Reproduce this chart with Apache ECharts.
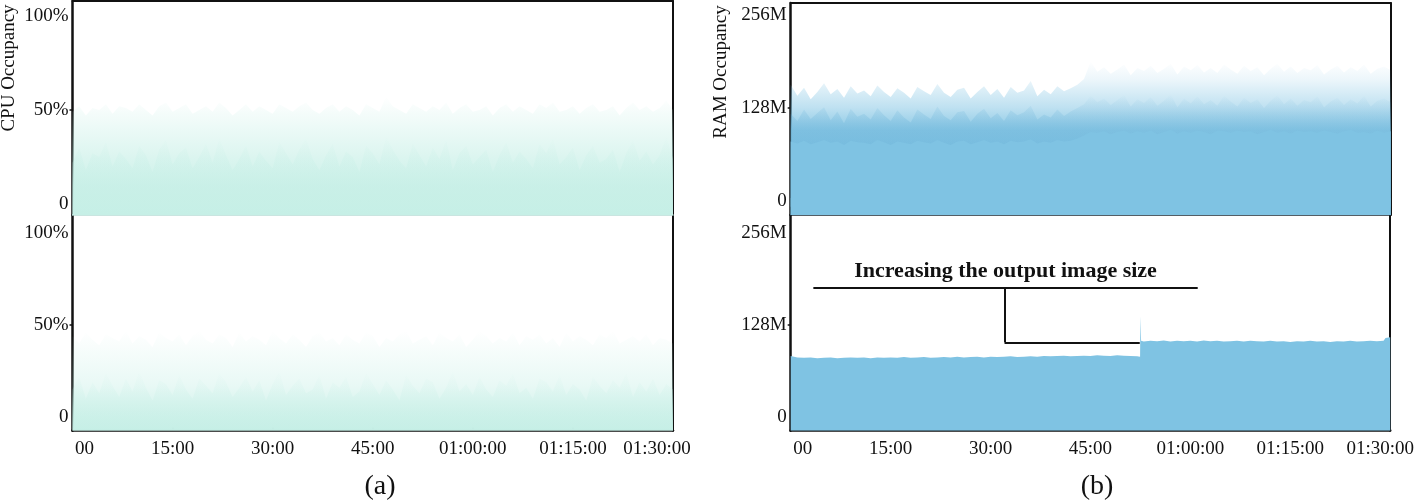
<!DOCTYPE html>
<html>
<head>
<meta charset="utf-8">
<title>CPU / RAM occupancy</title>
<script src="https://cdn.jsdelivr.net/npm/echarts@6/dist/echarts.min.js"></script>
<style>
  html, body {margin:0;padding:0;background:#fff;}
  #main {width:1417px;height:502px;}
</style>
</head>
<body>
<div id="main"></div>
<script>
// x axis: minutes 0..90
var timeLabels = ['00', '15:00', '30:00', '45:00', '01:00:00', '01:15:00', '01:30:00'];
var cpuTicks = [0, 50, 100];
var ramTicks = [0, 128, 256];

// (a) top - CPU, one value per minute
var cpuTopPeak = [49,52,47,51,50,53,48,52,51,49,53,50,47,52,54,49,51,53,48,50,52,49,54,51,47,50,53,49,52,50,48,53,51,49,52,54,50,48,51,53,49,52,50,47,53,51,49,57,52,50,48,53,51,49,52,50,54,48,51,53,49,50,52,47,51,53,49,52,50,48,53,51,54,49,50,52,48,51,53,49,50,52,47,51,54,50,52,49,51,55,50];
var cpuTopMid = [22,30,18,27,25,33,20,28,24,19,31,26,17,29,34,21,27,30,19,25,32,22,35,26,18,24,31,20,28,23,19,33,27,21,29,35,24,18,26,32,20,28,25,17,31,27,21,36,29,23,19,32,26,20,30,24,34,18,27,31,21,25,29,17,26,33,22,28,24,19,32,27,35,21,25,30,18,26,31,22,24,29,17,27,34,23,28,21,26,36,24];
// (a) bottom - CPU
var cpuBotPeak = [44,40,46,42,39,45,43,41,47,40,44,42,38,46,43,41,45,39,44,47,42,40,45,43,38,46,41,44,42,39,47,43,40,45,42,38,44,46,41,43,39,45,42,40,46,44,38,43,41,45,47,40,42,44,39,46,43,41,45,38,42,47,44,40,43,41,46,39,44,42,45,40,43,38,46,41,44,42,39,45,43,47,40,42,44,41,45,39,43,42,40];
var cpuBotMid = [15,22,10,19,13,24,17,11,21,14,25,16,9,20,18,12,23,15,10,21,17,13,24,19,11,16,22,14,20,9,18,25,12,17,21,13,15,23,10,19,16,22,11,14,24,18,12,20,15,9,23,17,13,21,19,10,16,25,14,18,12,22,15,11,20,17,24,13,16,10,21,19,14,23,12,18,15,9,22,17,13,20,16,24,11,19,14,21,12,18,15];

// (b) top - RAM (M), one value per minute
var ramTopPeak = [160,145,156,140,150,162,147,154,142,158,148,152,144,159,150,143,155,149,141,157,151,146,161,149,143,153,156,141,150,158,146,154,142,157,149,152,165,144,153,147,158,151,155,160,168,
  192,178,184,175,181,188,173,183,179,186,176,182,189,174,185,180,187,177,183,176,188,181,175,186,179,184,173,182,189,178,185,176,183,180,187,174,181,186,177,184,179,188,175,182,185,180];
var ramTopMid = [120,110,126,113,121,129,111,123,107,127,116,120,112,128,118,110,125,115,108,126,119,113,130,117,111,122,124,109,120,127,114,121,110,125,118,122,131,112,119,115,126,117,123,128,133,
  145,136,141,132,139,146,130,140,135,143,131,138,147,129,141,134,144,133,139,131,145,137,130,142,135,140,128,138,146,133,141,131,139,136,144,129,137,142,132,140,134,145,130,138,141,136];
var ramTopBase = [82,79,83,78,81,84,80,82,77,83,81,80,78,84,81,77,82,80,78,83,81,79,84,80,77,82,83,78,81,84,80,82,78,83,81,82,85,79,82,80,84,82,83,86,90,
  95,94,96,92,95,97,93,96,94,97,92,95,98,93,96,94,97,95,92,97,96,94,97,95,96,92,95,98,94,96,93,97,95,96,94,97,95,93,96,98,94,95,93,97,94,96];

// (b) bottom - RAM (M), [minute, value]
var ramLow = [[0,85],[1,83],[2,82.5],[3,83],[4,82],[5,82.5],[6,83],[7,82],[8,82.5],[9,83],[10,82.5],[11,83],[12,82],[13,83],[14,82.5],
  [15,83],[16,82.5],[17,83.5],[18,82.5],[19,83],[20,83.5],[21,82.5],[22,83],[23,83.5],[24,83],[25,84],[26,83],[27,83.5],[28,84],[29,83],
  [30,84],[31,83.5],[32,84],[33,84.5],[34,83.5],[35,84],[36,84.5],[37,84],[38,85],[39,84.5],[40,85],[41,85.5],[42,84.5],[43,85],[44,85.5],
  [45,85],[46,86],[47,85.5],[48,85],[49,86],[50,85.5],[51,85],[52,84.5],[52.45,84],[52.5,140],[52.6,106],[53,105],[54,106],[55,105.5],
  [56,106.5],[57,105],[58,106],[59,105.5],[60,106],[61,105],[62,106.5],[63,105.5],[64,106],[65,105],[66,105.5],[67,106],[68,105],[69,106],
  [70,105.5],[71,105],[72,106],[73,105],[74,105.5],[75,104.5],[76,105.5],[77,105],[78,106],[79,105],[80,105.5],[81,104.5],[82,105.5],
  [83,105],[84,106],[85,105],[86,105.5],[87,106],[88,105.5],[89,106],[89.3,110],[90,111]];

function perMinute(vals) {
  return vals.map(function (v, i) { return [i * 90 / (vals.length - 1), v]; });
}

function fade(rgb, stops) {
  return {
    type: 'linear', x: 0, y: 0, x2: 0, y2: 1,
    colorStops: stops.map(function (s) { return {offset: s[0], color: 'rgba(' + rgb + ',' + s[1] + ')'}; })
  };
}

function area(name, idx, data, color, z) {
  return {
    name: name, type: 'line', xAxisIndex: idx, yAxisIndex: idx, data: data,
    showSymbol: false, symbol: 'none', z: z,
    lineStyle: {width: 0, opacity: 0},
    areaStyle: {color: color, origin: 'start', opacity: 1}
  };
}

var serif = 'Liberation Serif';
var ink = '#111';

var grids = [
  {left: 72.5, top: 1, width: 600.5, height: 214},
  {left: 72.5, top: 215, width: 600.5, height: 215.7},
  {left: 790.7, top: 3, width: 600, height: 212},
  {left: 790.7, top: 215, width: 600, height: 215.7}
];
var yRanges = [[-5.8, 107.9], [-7.3, 109.6], [-19.3, 272.5], [-18.6, 280.5]];

function xMain(i) {
  var bottom = (i === 1 || i === 3);
  var tail = i === 1 ? 32 : 20;
  return {
    type: 'value', gridIndex: i, min: 0, max: 90, interval: 15, position: 'bottom',
    splitLine: {show: false},
    axisLine: {show: true, onZero: false, lineStyle: {color: bottom ? ink : (i === 0 ? '#b9ddd6' : '#1d2a33'), width: bottom ? 2.5 : 1.5}},
    axisTick: {show: bottom, inside: true, length: 3, lineStyle: {color: ink, width: 2}},
    axisLabel: {
      show: bottom, margin: 9, color: ink, fontFamily: serif, fontSize: 19,
      formatter: function (v) {
        var k = Math.round(v / 15);
        if (k === 0) return '{first|' + timeLabels[k] + '}';
        if (k === 6) return '{last|' + timeLabels[k] + '}';
        return timeLabels[k];
      },
      rich: {
        first: {fontFamily: serif, fontSize: 19, color: ink, padding: [0, 0, 0, 24]},
        last: {fontFamily: serif, fontSize: 19, color: ink, padding: [0, tail, 0, 0]}
      }
    }
  };
}
function xTop(i) {
  var top = (i === 0 || i === 2);
  return {
    type: 'value', gridIndex: i, min: 0, max: 90, position: 'top', show: top,
    splitLine: {show: false}, axisTick: {show: false}, axisLabel: {show: false},
    axisLine: {show: true, onZero: false, lineStyle: {color: ink, width: 2}}
  };
}
function yMain(i) {
  var isCpu = i < 2;
  var ticks = isCpu ? cpuTicks : ramTicks;
  return {
    type: 'value', gridIndex: i, min: yRanges[i][0], max: yRanges[i][1], position: 'left',
    splitLine: {show: false},
    axisLine: {show: true, onZero: false, lineStyle: {color: ink, width: 2.5}},
    axisTick: {show: true, customValues: [ticks[1]], length: 3, lineStyle: {color: ink, width: 1.5}},
    axisLabel: {
      customValues: ticks, margin: 4, color: ink, fontFamily: serif, fontSize: 19,
      formatter: function (v) {
        if (v === 0) return '0';
        return isCpu ? v + '%' : v + 'M';
      }
    }
  };
}
function yRight(i) {
  return {
    type: 'value', gridIndex: i, min: yRanges[i][0], max: yRanges[i][1], position: 'right',
    splitLine: {show: false}, axisTick: {show: false}, axisLabel: {show: false},
    axisLine: {show: true, onZero: false, lineStyle: {color: ink, width: 2}}
  };
}

var teal = '198,239,230';
var blue = '127,195,227';
var deepBlue = '98,174,214';

var option = {
  animation: false,
  backgroundColor: '#fff',
  grid: grids,
  xAxis: [0, 1, 2, 3].map(xMain).concat([0, 1, 2, 3].map(xTop)),
  yAxis: [0, 1, 2, 3].map(yMain).concat([0, 1, 2, 3].map(yRight)),
  series: [
    area('CPU peak', 0, perMinute(cpuTopPeak), fade(teal, [[0, 0], [0.15, 0.2], [0.45, 0.55], [0.75, 0.9], [1, 1]]), 2),
    area('CPU', 0, perMinute(cpuTopMid), fade(teal, [[0, 0], [0.4, 0.35], [1, 0.6]]), 3),
    area('CPU peak', 1, perMinute(cpuBotPeak), fade(teal, [[0, 0], [0.2, 0.15], [0.55, 0.4], [0.85, 0.8], [1, 1]]), 2),
    area('CPU', 1, perMinute(cpuBotMid), fade(teal, [[0, 0], [0.5, 0.3], [1, 0.6]]), 3),
    area('RAM peak', 2, perMinute(ramTopPeak), fade(blue, [[0, 0], [0.12, 0.15], [0.3, 0.5], [0.45, 0.9], [1, 1]]), 2),
    area('RAM', 2, perMinute(ramTopMid), fade(deepBlue, [[0, 0], [0.25, 0.3], [0.45, 0.45], [1, 0.5]]), 3),
    (function () {
      var s = area('RAM', 2, perMinute(ramTopBase), 'rgb(' + blue + ')', 4);
      s.markArea = {silent: true, itemStyle: {color: 'rgba(118,204,226,0.7)'}, data: [[{yAxis: -8}, {yAxis: 4}]]};
      return s;
    })(),
    (function () {
      var s = area('RAM', 3, ramLow, 'rgb(' + blue + ')', 3);
      s.markLine = {
        silent: true, symbol: ['none', 'none'], animation: false,
        lineStyle: {color: ink, width: 2, type: 'solid'},
        label: {show: false},
        data: [
          [{coord: [3.4, 179.7], label: {show: true, position: 'insideMiddleTop', distance: 5, formatter: 'Increasing the output image size',
            color: ink, fontFamily: serif, fontSize: 22, fontWeight: 'bold'}}, {coord: [61.1, 179.7]}],
          [{coord: [32.1, 179.7]}, {coord: [32.1, 104]}],
          [{coord: [32.1, 104]}, {coord: [52.4, 104]}]
        ]
      };
      return s;
    })()
  ],
  graphic: [
    {type: 'text', x: 9, y: 68, rotation: Math.PI / 2, style: {text: 'CPU Occupancy', fontFamily: serif, fontSize: 19, fill: ink, align: 'center', verticalAlign: 'middle'}},
    {type: 'text', x: 721, y: 72, rotation: Math.PI / 2, style: {text: 'RAM Occupancy', fontFamily: serif, fontSize: 19, fill: ink, align: 'center', verticalAlign: 'middle'}},
    {type: 'text', x: 380, y: 487, style: {text: '(a)', fontFamily: serif, fontSize: 28, fill: ink, align: 'center', verticalAlign: 'middle'}},
    {type: 'text', x: 1097, y: 487, style: {text: '(b)', fontFamily: serif, fontSize: 28, fill: ink, align: 'center', verticalAlign: 'middle'}}
  ]
};

var chart = echarts.init(document.getElementById('main'), null, {renderer: 'canvas'});
chart.setOption(option);
</script>
</body>
</html>
